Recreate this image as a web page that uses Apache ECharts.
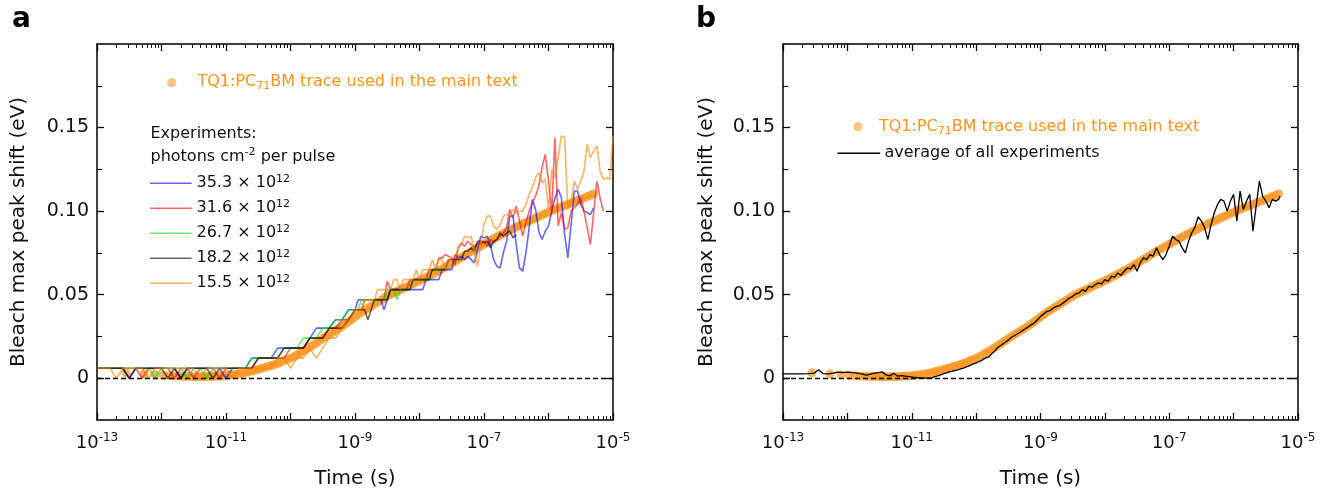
<!DOCTYPE html>
<html>
<head>
<meta charset="utf-8">
<script src="https://cdn.jsdelivr.net/npm/echarts@6/dist/echarts.min.js"></script>
<style>html,body{margin:0;padding:0;background:#fff}#c{width:1327px;height:492px}</style>
</head>
<body>
<div id="c"></div>
<script>
// ---------------- DATA (x values are log10 of time in seconds) ----------------
const xTickExponents = [-13, -11, -9, -7, -5];
const yTickValues = [0, 0.05, 0.10, 0.15];
const yTickLabels = ['0', '0.05', '0.10', '0.15'];

const expLogTime = [
 -13.0,-12.9,-12.8,-12.7,-12.6,-12.5,-12.4,-12.3,-12.2,-12.1,
 -12.0,-11.9,-11.8,-11.7,-11.6,-11.5,-11.4,-11.3,-11.2,-11.1,
 -11.0,-10.9,-10.8,-10.7,-10.6,-10.5,-10.4,-10.3,-10.2,-10.1,
 -10.0,-9.9,-9.8,-9.7,-9.6,-9.5,-9.4,-9.3,-9.2,-9.1,
 -9.0,-8.95,-8.9,-8.85,-8.8,-8.75,-8.7,-8.65,-8.6,-8.55,
 -8.5,-8.45,-8.4,-8.35,-8.3,-8.25,-8.2,-8.15,-8.1,-8.05,
 -8.0,-7.95,-7.9,-7.85,-7.8,-7.75,-7.7,-7.65,-7.6,-7.55,
 -7.5,-7.45,-7.4,-7.35,-7.3,-7.25,-7.2,-7.15,-7.1,-7.05,
 -7.0,-6.95,-6.9,-6.85,-6.8,-6.75,-6.7,-6.65,-6.6,-6.55,
 -6.5,-6.45,-6.4,-6.35,-6.3,-6.25,-6.2,-6.15,-6.1,-6.05,
 -6.0,-5.95,-5.9,-5.85,-5.8,-5.75,-5.7,-5.65,-5.6,-5.55,
 -5.5,-5.45,-5.4,-5.35,-5.3,-5.25,-5.2,-5.15,-5.1,-5.05,
 -5.0];

const exp353 = [
 .006,.006,.006,.006,.006,0,.006,.006,.006,.006,
 .006,.006,.006,0,.006,.006,.006,.006,.006,.006,
 0,.006,.006,.006,.012,.012,.012,.012,.018,.018,
 .018,.018,.018,.024,.030,.030,.030,.035,.035,.041,
 .041,.047,.047,.047,.047,.047,.047,.047,.047,.041,
 .047,.053,.053,.053,.053,.053,.053,.053,.053,.053,
 .053,.053,.059,.059,.059,.059,.059,.065,.065,.065,
 .065,.074,.072,.073,.071,.073,.071,.069,.077,.085,
 .084,.085,.080,.071,.067,.066,.075,.082,.097,.097,
 .080,.066,.064,.075,.090,.107,.101,.088,.083,.088,
 .091,.100,.108,.113,.108,.086,.072,.092,.112,.112,
 .104,.100,.099,.098,.102,null,null,null,null,null,
 null];

const exp316 = [
 .006,.006,.006,.006,.006,.006,.006,0,.006,.006,
 .006,.006,0,.006,.006,0,.006,.006,.006,0,
 .006,.006,.006,.006,.006,.012,.012,.012,.012,.012,
 .018,.018,.018,.024,.024,.024,.030,.030,.035,.035,
 .041,.041,.041,.047,.047,.047,.047,.047,.047,.047,
 .058,.053,.053,.053,.053,.053,.053,.059,.059,.059,
 .059,.059,.059,.065,.065,.065,.072,.072,.074,.073,
 .072,.068,.078,.081,.079,.082,.080,.078,.081,.080,
 .082,.079,.083,.081,.083,.085,.087,.090,.101,.096,
 .103,.094,.085,.093,.100,.105,.109,.115,.126,.134,
 .118,.099,.144,.091,.099,.089,.090,.100,.102,.104,
 .108,.100,.090,.080,.099,.118,.108,.100,null,null,
 null];

const exp267 = [
 .006,.006,.006,.006,.006,.006,.006,.006,.006,0,
 .006,.006,.006,.006,0,.006,.006,0,.006,.006,
 .006,.006,.006,.006,.012,.012,.012,.012,.012,.018,
 .018,.018,.024,.024,.024,.030,.030,.035,.035,.041,
 .041,.041,.047,.047,.047,.047,.047,.047,.047,.047,
 .053,.053,.053,.047,.053,.053,.053,.053,.059,.059,
 .059,.059,.059,.059,.065,.065,.065,.065,.065,null,
 null,null,null,null,null,null,null,null,null,null,
 null,null,null,null,null,null,null,null,null,null,
 null,null,null,null,null,null,null,null,null,null,
 null,null,null,null,null,null,null,null,null,null,
 null,null,null,null,null,null,null,null,null,null,
 null];

const exp182 = [
 .006,.006,.006,.006,.006,0,.006,.006,.006,.006,
 .006,0,.006,0,.006,.006,.006,.006,0,.006,
 .006,.006,.006,.006,.006,.012,.012,.012,.012,.018,
 .018,.018,.018,.024,.024,.024,.030,.030,.030,.035,
 .041,.041,.041,.041,.035,.041,.047,.047,.047,.047,
 .047,.053,.053,.053,.053,.053,.053,.053,.059,.059,
 .059,.059,.059,.059,.065,.065,.065,.065,.065,.071,
 .071,.071,.071,.071,.076,.076,.078,.076,.082,.082,
 .081,.082,.078,.082,.083,.087,.085,.087,.088,.084,
 .086,null,null,null,null,null,null,null,null,null,
 null,null,null,null,null,null,null,null,null,null,
 null,null,null,null,null,null,null,null,null,null,
 null];

const exp155 = [
 .006,.006,.006,0,.006,.006,.006,.006,0,.006,
 .006,.006,.006,.006,.006,.006,0,.006,.006,.006,
 .006,0,.006,.006,.006,.006,.006,.006,.012,.012,
 .006,.012,.012,.018,.012,.018,.024,.024,.030,.035,
 .041,.041,.041,.047,.047,.047,.047,.053,.053,.053,
 .053,.053,.059,.059,.053,.059,.059,.059,.059,.065,
 .059,.065,.065,.065,.071,.065,.071,.071,.065,.071,
 .071,.072,.078,.080,.085,.084,.085,.076,.067,.080,
 .092,.097,.097,.091,.089,.092,.097,.098,.098,.101,
 .099,.100,.100,.104,.110,.114,.120,.123,.117,.119,
 .101,.125,.120,.132,.145,.144,.101,.106,.118,.113,
 .118,.124,.140,.132,.136,.139,.124,.119,.120,.119,
 .145];

// TQ1:PC71BM trace used in the main text: [log10 time, shift eV]
const traceMain = [
 [-12.55,.0032],[-12.27,.0026],[-12.10,.0021],[-11.97,.0017],[-11.88,.0015],[-11.80,.0013],[-11.73,.0012],[-11.67,.0011],[-11.61,.0011],
 [-11.55,.0010],[-11.50,.0009],[-11.45,.0009],[-11.40,.0009],[-11.35,.0009],[-11.30,.0010],[-11.25,.0010],[-11.20,.0011],[-11.15,.0012],[-11.10,.0013],
 [-11.05,.0014],[-11.00,.0015],[-10.95,.0018],[-10.90,.0021],[-10.85,.0023],[-10.80,.0026],[-10.75,.0029],[-10.70,.0033],[-10.65,.0038],[-10.60,.0043],
 [-10.55,.0048],[-10.50,.0053],[-10.45,.0058],[-10.40,.0064],[-10.35,.0070],[-10.30,.0076],[-10.25,.0081],[-10.20,.0088],[-10.15,.0096],[-10.10,.0104],
 [-10.05,.0112],[-10.00,.0120],[-9.95,.0128],[-9.90,.0140],[-9.85,.0151],[-9.80,.0163],[-9.75,.0175],[-9.70,.0186],[-9.65,.0199],[-9.60,.0211],
 [-9.55,.0224],[-9.50,.0237],[-9.45,.0250],[-9.40,.0262],[-9.35,.0274],[-9.30,.0286],[-9.25,.0298],[-9.20,.0310],[-9.15,.0324],[-9.10,.0338],
 [-9.05,.0352],[-9.00,.0367],[-8.95,.0381],[-8.90,.0395],[-8.85,.0407],[-8.80,.0419],[-8.75,.0431],[-8.70,.0443],[-8.65,.0455],[-8.60,.0467],
 [-8.55,.0479],[-8.50,.0492],[-8.45,.0501],[-8.40,.0511],[-8.35,.0520],[-8.30,.0529],[-8.25,.0538],[-8.20,.0548],[-8.15,.0557],[-8.10,.0566],
 [-8.05,.0575],[-8.00,.0584],[-7.95,.0594],[-7.90,.0603],[-7.85,.0613],[-7.80,.0623],[-7.75,.0632],[-7.70,.0642],[-7.65,.0654],[-7.60,.0665],
 [-7.55,.0677],[-7.50,.0688],[-7.45,.0700],[-7.40,.0712],[-7.35,.0723],[-7.30,.0735],[-7.25,.0746],[-7.20,.0758],[-7.15,.0769],[-7.10,.0780],
 [-7.05,.0791],[-7.00,.0802],[-6.95,.0813],[-6.90,.0824],[-6.85,.0835],[-6.80,.0845],[-6.75,.0856],[-6.70,.0866],[-6.65,.0876],[-6.60,.0885],
 [-6.55,.0895],[-6.50,.0905],[-6.45,.0914],[-6.40,.0924],[-6.35,.0932],[-6.30,.0941],[-6.25,.0950],[-6.20,.0959],[-6.15,.0968],[-6.10,.0976],
 [-6.05,.0985],[-6.00,.0993],[-5.95,.1002],[-5.90,.1010],[-5.85,.1018],[-5.80,.1025],[-5.75,.1033],[-5.70,.1041],[-5.65,.1048],[-5.60,.1056],
 [-5.55,.1064],[-5.50,.1071],[-5.45,.1079],[-5.40,.1087],[-5.35,.1095],[-5.30,.1104]];

// average of all experiments: [log10 time, shift eV]
const avgAll = [
 [-13.0,.0026],[-12.9,.0026],[-12.8,.0026],[-12.7,.0026],[-12.6,.0027],[-12.52,.0030],[-12.45,.0050],[-12.38,.0028],[-12.3,.0026],[-12.22,.0030],
 [-12.15,.0036],[-12.08,.0034],[-12.0,.0037],[-11.92,.0033],[-11.85,.0030],[-11.78,.0026],[-11.7,.0018],[-11.64,.0024],[-11.58,.0030],[-11.52,.0034],
 [-11.46,.0038],[-11.4,.0020],[-11.34,.0014],[-11.28,.0030],[-11.22,.0012],[-11.16,.0016],[-11.1,.0012],[-11.04,.0010],[-10.98,.0006],[-10.92,.0004],
 [-10.86,.0002],[-10.8,.0000],[-10.74,.0000],[-10.68,.0004],[-10.64,.0010],[-10.6,.0014],[-10.55,.0020],[-10.5,.0027],[-10.45,.0034],[-10.4,.0040],
 [-10.35,.0044],[-10.3,.0048],[-10.25,.0054],[-10.2,.0060],[-10.15,.0068],[-10.1,.0075],[-10.05,.0085],[-10.0,.0092],[-9.95,.0100],[-9.9,.0110],
 [-9.85,.0122],[-9.8,.0128],[-9.75,.0150],[-9.7,.0168],[-9.65,.0188],[-9.6,.0200],[-9.55,.0215],[-9.5,.0228],[-9.45,.0245],[-9.4,.0256],
 [-9.35,.0268],[-9.3,.0280],[-9.25,.0292],[-9.2,.0305],[-9.15,.0318],[-9.1,.0330],[-9.05,.0348],[-9.0,.0370],[-8.95,.0385],[-8.9,.0400],
 [-8.85,.0405],[-8.8,.0420],[-8.75,.0430],[-8.7,.0435],[-8.65,.0450],[-8.6,.0465],[-8.55,.0480],[-8.5,.0490],[-8.45,.0505],[-8.4,.0510],
 [-8.35,.0530],[-8.3,.0520],[-8.25,.0550],[-8.2,.0545],[-8.15,.0560],[-8.1,.0570],[-8.05,.0565],[-8.0,.0590],[-7.95,.0580],[-7.9,.0610],
 [-7.85,.0605],[-7.8,.0630],[-7.75,.0615],[-7.7,.0640],[-7.65,.0660],[-7.6,.0655],[-7.55,.0680],[-7.5,.0640],[-7.45,.0690],[-7.4,.0720],
 [-7.35,.0710],[-7.3,.0740],[-7.25,.0730],[-7.2,.0780],[-7.15,.0740],[-7.1,.0710],[-7.05,.0740],[-7.0,.0790],[-6.95,.0850],[-6.9,.0830],
 [-6.85,.0820],[-6.8,.0780],[-6.75,.0750],[-6.7,.0820],[-6.65,.0870],[-6.6,.0906],[-6.55,.0966],[-6.5,.0940],[-6.45,.0900],[-6.4,.0830],
 [-6.35,.0920],[-6.3,.0990],[-6.25,.1040],[-6.2,.1070],[-6.15,.1060],[-6.1,.1000],[-6.05,.1060],[-6.0,.1100],[-5.95,.0940],[-5.9,.1120],
 [-5.85,.1010],[-5.8,.1060],[-5.75,.1100],[-5.7,.0880],[-5.65,.1030],[-5.6,.1180],[-5.55,.1090],[-5.5,.1060],[-5.45,.1020],[-5.4,.1070],
 [-5.35,.1060],[-5.3,.1070],[-5.28,.1090]];

// ---------------- CHART ----------------
const FONT = 'DejaVu Sans';
const ORANGE = '#F7941D';
const DOT_LEGEND = 'rgba(247,148,29,0.55)';
const DOT_SERIES = 'rgba(247,148,29,0.85)';
const TXT = '#111';

const minorX = [];
for (let n = -13; n < -5; n++) for (let k = 2; k <= 9; k++) minorX.push(n + Math.log10(k));
const yMinor = [0.025, 0.075, 0.125, 0.175];

function xFmt(v) {
  const e = Math.round(v);
  return xTickExponents.indexOf(e) >= 0 ? '{b|10}{s|' + e + '}' : '';
}
function yFmt(v) {
  for (let i = 0; i < yTickValues.length; i++) if (Math.abs(v - yTickValues[i]) < 1e-9) return yTickLabels[i];
  return '';
}
const axLine = { color: '#000', width: 1.5 };
const tkLine = { color: '#000', width: 1.3 };

function xAxesFor(gi) {
  const base = { gridIndex: gi, type: 'value', min: -13, max: -5, interval: 1, splitLine: { show: false } };
  return [
    Object.assign({}, base, {
      position: 'bottom',
      axisLine: { show: true, onZero: false, lineStyle: axLine },
      axisTick: { show: true, inside: true, length: 7, lineStyle: tkLine },
      axisLabel: { show: true, margin: 12, showMinLabel: true, showMaxLabel: true, formatter: xFmt,
        rich: { b: { fontSize: 18, fontFamily: FONT, color: TXT, lineHeight: 22 },
                s: { fontSize: 12, fontFamily: FONT, color: TXT, lineHeight: 10, verticalAlign: 'top' } } },
      name: 'Time (s)', nameLocation: 'middle', nameGap: 49,
      nameTextStyle: { fontSize: 20, fontFamily: FONT, color: TXT }
    }),
    Object.assign({}, base, {
      position: 'bottom',
      axisLine: { show: false, onZero: false },
      axisTick: { show: true, inside: true, length: 4, customValues: minorX, lineStyle: { color: '#000', width: 1 } },
      axisLabel: { show: false, customValues: minorX }
    }),
    Object.assign({}, base, {
      position: 'top',
      axisLine: { show: true, onZero: false, lineStyle: axLine },
      axisTick: { show: true, inside: true, length: 7, lineStyle: tkLine },
      axisLabel: { show: false }
    }),
    Object.assign({}, base, {
      position: 'top',
      axisLine: { show: false, onZero: false },
      axisTick: { show: true, inside: true, length: 4, customValues: minorX, lineStyle: { color: '#000', width: 1 } },
      axisLabel: { show: false, customValues: minorX }
    })
  ];
}
function yAxesFor(gi, gap) {
  const base = { gridIndex: gi, type: 'value', min: -0.025, max: 0.2, interval: 0.025, splitLine: { show: false } };
  return [
    Object.assign({}, base, {
      position: 'left',
      axisLine: { show: true, onZero: false, lineStyle: axLine },
      axisTick: { show: true, inside: true, length: 7, customValues: yTickValues, lineStyle: tkLine },
      axisLabel: { show: true, margin: 8, customValues: yTickValues, formatter: yFmt, fontSize: 19, fontFamily: FONT, color: TXT },
      name: 'Bleach max peak shift (eV)', nameLocation: 'middle', nameGap: gap,
      nameTextStyle: { fontSize: 20, fontFamily: FONT, color: TXT }
    }),
    Object.assign({}, base, {
      position: 'left',
      axisLine: { show: false, onZero: false },
      axisTick: { show: true, inside: true, length: 5, customValues: yMinor, lineStyle: { color: '#000', width: 1.1 } },
      axisLabel: { show: false, customValues: yMinor }
    }),
    Object.assign({}, base, {
      position: 'right',
      axisLine: { show: true, onZero: false, lineStyle: axLine },
      axisTick: { show: true, inside: true, length: 7, customValues: yTickValues, lineStyle: tkLine },
      axisLabel: { show: false, customValues: yTickValues }
    }),
    Object.assign({}, base, {
      position: 'right',
      axisLine: { show: false, onZero: false },
      axisTick: { show: true, inside: true, length: 5, customValues: yMinor, lineStyle: { color: '#000', width: 1.1 } },
      axisLabel: { show: false, customValues: yMinor }
    })
  ];
}

function pairs(xs, ys) {
  const out = [];
  for (let i = 0; i < xs.length; i++) if (ys[i] !== null && ys[i] !== undefined) out.push([xs[i], ys[i]]);
  return out;
}

const expSeries = [
  { name: '35.3', vals: exp353, color: '#0000ff' },
  { name: '31.6', vals: exp316, color: '#ff0000' },
  { name: '26.7', vals: exp267, color: '#00dd00' },
  { name: '18.2', vals: exp182, color: '#000000' },
  { name: '15.5', vals: exp155, color: '#ff8000' }
];

const zeroLine = {
  silent: true, symbol: ['none', 'none'], label: { show: false },
  lineStyle: { type: [5, 3], color: '#000', width: 1.4, opacity: 1 },
  data: [{ yAxis: 0 }], animation: false
};

const dotStyle = { color: DOT_SERIES };

const series = [];
series.push({
  type: 'scatter', name: 'trace-a', xAxisIndex: 0, yAxisIndex: 0, data: traceMain, large: false,
  symbol: 'circle', symbolSize: 9, itemStyle: dotStyle, z: 2, silent: true,
  markLine: zeroLine
});
expSeries.forEach(function (s) {
  series.push({
    type: 'line', name: s.name, xAxisIndex: 0, yAxisIndex: 0,
    data: pairs(expLogTime, s.vals), showSymbol: false, symbol: 'none',
    lineStyle: { color: s.color, width: 1.6, opacity: 0.6 }, z: 3, silent: true
  });
});
series.push({
  type: 'scatter', name: 'trace-b', xAxisIndex: 4, yAxisIndex: 4, data: traceMain, large: false,
  symbol: 'circle', symbolSize: 9, itemStyle: dotStyle, z: 2, silent: true,
  markLine: zeroLine
});
series.push({
  type: 'line', name: 'average', xAxisIndex: 4, yAxisIndex: 4, data: avgAll,
  showSymbol: false, symbol: 'none', lineStyle: { color: '#000', width: 1.3 }, z: 3, silent: true
});

function richStyles(color) {
  return {
    m: { fontSize: 16, fontFamily: FONT, fill: color, color: color, lineHeight: 20 },
    sup: { fontSize: 11, fontFamily: FONT, fill: color, color: color, lineHeight: 8, verticalAlign: 'top' },
    sub: { fontSize: 11, fontFamily: FONT, fill: color, color: color, lineHeight: 8, verticalAlign: 'bottom' }
  };
}
function legText(x, y, text, color) {
  return { type: 'text', x: x, y: y, silent: true, z: 10,
    style: { text: text, fill: color, fontSize: 16, fontFamily: FONT, lineHeight: 20,
             align: 'left', verticalAlign: 'middle', rich: richStyles(color) } };
}
function legLine(x1, x2, y, color, op, w) {
  return { type: 'line', silent: true, z: 10, shape: { x1: x1, y1: y, x2: x2, y2: y },
    style: { stroke: color, lineWidth: w, opacity: op } };
}
function legDot(cx, cy) {
  return { type: 'circle', silent: true, z: 10, shape: { cx: cx, cy: cy, r: 4.6 },
    style: { fill: DOT_LEGEND } };
}

const rowsY = [183.3, 208.3, 233.3, 258.3, 283.3];
const graphics = [
  { type: 'text', x: 12, y: 20, silent: true,
    style: { text: 'a', fontSize: 28, fontWeight: 'bold', fontFamily: FONT, fill: '#000', verticalAlign: 'middle' } },
  { type: 'text', x: 696, y: 20, silent: true,
    style: { text: 'b', fontSize: 28, fontWeight: 'bold', fontFamily: FONT, fill: '#000', verticalAlign: 'middle' } },
  legDot(171.7, 82.7),
  legText(197.5, 82, '{m|TQ1:PC}{sub|71}{m|BM trace used in the main text}', ORANGE),
  legText(150.5, 133.5, '{m|Experiments:}', TXT),
  legText(150.5, 157, '{m|photons cm}{sup|-2}{m| per pulse}', TXT),
  legDot(858, 126.7),
  legText(879, 127, '{m|TQ1:PC}{sub|71}{m|BM trace used in the main text}', ORANGE),
  legLine(837.4, 880.2, 153.3, '#000', 1, 1.5),
  legText(884.5, 153, '{m|average of all experiments}', TXT)
];
expSeries.forEach(function (s, i) {
  graphics.push(legLine(150, 191.7, rowsY[i], s.color, 0.6, 1.6));
  graphics.push(legText(196.5, rowsY[i], '{m|' + s.name + ' \u00d7 10}{sup|12}', TXT));
});

const option = {
  animation: false,
  backgroundColor: '#fff',
  grid: [
    { left: 97, top: 44, width: 516, height: 376, containLabel: false, outerBoundsMode: 'none' },
    { left: 783, top: 44, width: 515, height: 376, containLabel: false, outerBoundsMode: 'none' }
  ],
  xAxis: xAxesFor(0).concat(xAxesFor(1)),
  yAxis: yAxesFor(0, 68).concat(yAxesFor(1, 66)),
  series: series,
  graphic: { elements: graphics }
};

const chart = echarts.init(document.getElementById('c'), null, { renderer: 'canvas' });
chart.setOption(option);
</script>
</body>
</html>
